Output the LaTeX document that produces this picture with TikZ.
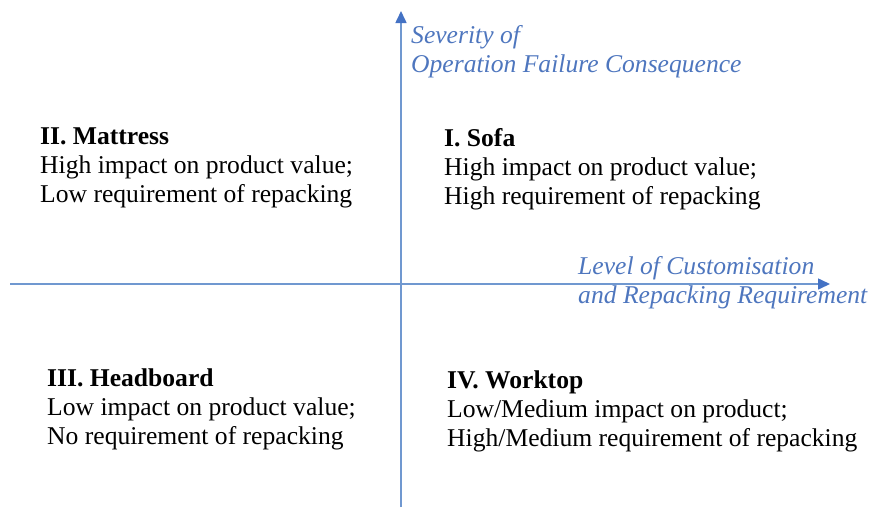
\documentclass[tikz,border=0pt]{standalone}
\usepackage{fontspec}
\setmainfont{Liberation Serif}
\usetikzlibrary{arrows.meta,positioning}
\definecolor{axisblue}{RGB}{112,152,208}
\definecolor{tipblue}{RGB}{68,114,196}
\definecolor{labelblue}{RGB}{78,118,190}

\begin{document}
\begin{tikzpicture}[x=1pt,y=-1pt,>={Triangle[length=12pt,width=11pt,color=tipblue]}]
  \tikzstyle{quad}=[anchor=base west,inner sep=0pt,align=left,font=\fontsize{25.6}{29}\selectfont]
  \tikzstyle{axislabel}=[anchor=base west,inner sep=0pt,align=left,text=labelblue,font=\fontsize{25.6}{29}\selectfont\itshape]
  \tikzstyle{axis}=[draw=axisblue,line width=1.6pt,->]
  \useasboundingbox (0,0) rectangle (872,507);
  \coordinate (ybot) at (401,507);
  \coordinate (ytop) at (401,11);
  \coordinate (xleft) at (10,284);
  \coordinate (xright) at (830,284);
  \draw[axis] (ybot) -- (ytop);
  \draw[axis] (xleft) -- (xright);
  % base anchor sits on the last line
  \node[axislabel] (sev) at (411,72) {Severity of\\Operation Failure Consequence};
  \node[axislabel] (cust) at (578,303) {Level of Customisation\\and Repacking Requirement};
  \node[quad] (mattress) at (40,202) {\textbf{II. Mattress}\\High impact on product value;\\Low requirement of repacking};
  \node[quad] (sofa) at (444,204) {\textbf{I. Sofa}\\High impact on product value;\\High requirement of repacking};
  \node[quad] (headboard) at (47,444) {\textbf{III. Headboard}\\Low impact on product value;\\No requirement of repacking};
  \node[quad] (worktop) at (447,446) {\textbf{IV. Worktop}\\Low/Medium impact on product;\\High/Medium requirement of repacking};
\end{tikzpicture}
\end{document}
